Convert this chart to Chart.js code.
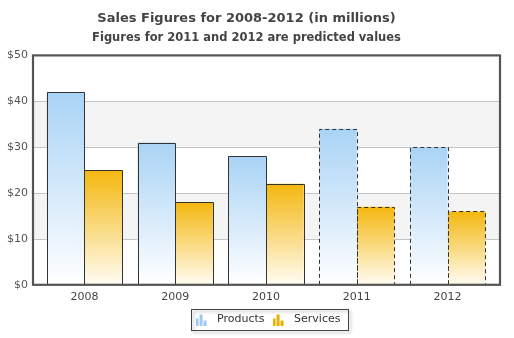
<!DOCTYPE html>
<html>
<head>
<meta charset="utf-8">
<script src="https://cdn.jsdelivr.net/npm/chart.js@4"></script>
<style>
  html, body { margin: 0; padding: 0; background: #fff; }
  #wrap { width: 514px; height: 338px; }
</style>
</head>
<body>
<div id="wrap"><canvas id="salesChart"></canvas></div>
<script>
// Sales data (millions of dollars)
const years = ['2008', '2009', '2010', '2011', '2012'];
const products = [42, 31, 28, 34, 30];
const services = [25, 18, 22, 17, 16];
const predicted = [false, false, false, true, true];
const yMax = 50;
const yStep = 10;

const FONT = "'DejaVu Sans', Verdana, sans-serif";
const FRAME_INSET = 6;   // frame sits a little outside the category range

// vertical gradient from the top of each bar down to the axis
function barGradient(top, bottom) {
    return function (context) {
        const chart = context.chart;
        if (!chart.chartArea || context.type !== 'data') return top;
        const y = chart.scales.y;
        const g = chart.ctx.createLinearGradient(0, y.getPixelForValue(context.raw), 0, y.getPixelForValue(0));
        g.addColorStop(0, top);
        g.addColorStop(1, bottom);
        return g;
    };
}

// little bar-chart icon used in the legend
function legendIcon(color) {
    const c = document.createElement('canvas');
    c.width = 12;
    c.height = 12;
    const g = c.getContext('2d');
    g.fillStyle = color;
    g.fillRect(0, 5, 3, 7);
    g.fillRect(4, 1, 3, 11);
    g.fillRect(8, 7, 3, 5);
    return c;
}

function frameRect(chart) {
    const a = chart.chartArea;
    return { left: a.left - FRAME_INSET, right: a.right + FRAME_INSET + 1, top: a.top, bottom: a.bottom };
}

// alternating bands and grid lines behind the bars
const bandsPlugin = {
    id: 'bands',
    beforeDatasetsDraw(chart) {
        const { ctx, scales: { y } } = chart;
        const f = frameRect(chart);
        ctx.save();
        ctx.fillStyle = '#f4f4f4';
        for (let v = 10; v < yMax; v += 2 * yStep) {
            const t = y.getPixelForValue(v + yStep);
            const b = y.getPixelForValue(v);
            ctx.fillRect(f.left, t, f.right - f.left, b - t);
        }
        ctx.strokeStyle = '#c4c4c4';
        ctx.lineWidth = 1;
        for (let v = yStep; v < yMax; v += yStep) {
            const py = Math.round(y.getPixelForValue(v)) + 0.5;
            ctx.beginPath();
            ctx.moveTo(f.left, py);
            ctx.lineTo(f.right, py);
            ctx.stroke();
        }
        ctx.restore();
    }
};

// bar outlines, dashed for the predicted years
const outlinePlugin = {
    id: 'barOutline',
    afterDatasetsDraw(chart) {
        const ctx = chart.ctx;
        chart.data.datasets.forEach((ds, i) => {
            chart.getDatasetMeta(i).data.forEach((bar, j) => {
                const p = bar.getProps(['x', 'y', 'base', 'width'], true);
                const l = Math.round(p.x - p.width / 2) + 0.5;
                const r = Math.round(p.x + p.width / 2) + 0.5;
                const t = Math.round(p.y) + 0.5;
                ctx.save();
                ctx.strokeStyle = '#333';
                ctx.lineWidth = 1;
                ctx.setLineDash(predicted[j] ? [4, 3] : []);
                ctx.beginPath();
                ctx.moveTo(l, p.base);
                ctx.lineTo(l, t);
                ctx.lineTo(r, t);
                ctx.lineTo(r, p.base);
                ctx.stroke();
                ctx.restore();
            });
        });
    }
};

// frame round the plot area and a box round the legend
const framePlugin = {
    id: 'frame',
    afterDraw(chart) {
        const ctx = chart.ctx;
        const f = frameRect(chart);
        ctx.save();
        ctx.strokeStyle = '#555';
        ctx.lineWidth = 2.2;
        ctx.strokeRect(f.left, f.top, f.right - f.left, f.bottom - f.top);

        const boxes = chart.legend.legendHitBoxes;
        if (boxes && boxes.length) {
            const x0 = Math.min(...boxes.map(b => b.left)) - 1;
            const x1 = Math.max(...boxes.map(b => b.left + b.width)) + 7;
            const y0 = Math.min(...boxes.map(b => b.top)) - 5;
            const y1 = Math.max(...boxes.map(b => b.top + b.height)) + 5;
            ctx.shadowColor = 'rgba(0,0,0,0.3)';
            ctx.shadowOffsetX = 2;
            ctx.shadowOffsetY = 2;
            ctx.shadowBlur = 3;
            ctx.lineWidth = 1;
            ctx.strokeStyle = '#444';
            ctx.strokeRect(Math.round(x0) + 0.5, Math.round(y0) + 0.5, Math.round(x1 - x0), Math.round(y1 - y0));
        }
        ctx.restore();
    }
};

new Chart(document.getElementById('salesChart'), {
    type: 'bar',
    data: {
        labels: years,
        datasets: [{
            label: 'Products',
            data: products,
            backgroundColor: barGradient('#a9d3f5', '#ffffff'),
            borderWidth: 0
        }, {
            label: 'Services',
            data: services,
            backgroundColor: barGradient('#f4b70e', '#fffcf3'),
            borderWidth: 0
        }]
    },
    options: {
        responsive: true,
        maintainAspectRatio: false,
        animation: false,
        datasets: {
            bar: { barPercentage: 1, categoryPercentage: 0.83 }
        },
        layout: { padding: { left: 0, right: 21, top: 7, bottom: 3 } },
        plugins: {
            title: {
                display: true,
                text: 'Sales Figures for 2008-2012 (in millions)',
                color: '#444',
                font: { family: FONT, size: 13, weight: 'bold' },
                padding: { top: 4, bottom: 5 }
            },
            subtitle: {
                display: true,
                text: 'Figures for 2011 and 2012 are predicted values',
                color: '#444',
                font: { family: FONT, size: 11.5, weight: 'bold' },
                padding: { bottom: 10 }
            },
            legend: {
                position: 'bottom',
                fullSize: false,
                labels: {
                    usePointStyle: true,
                    pointStyleWidth: 20,
                    generateLabels(chart) {
                        return chart.data.datasets.map((ds, i) => ({
                            text: ds.label,
                            pointStyle: legendIcon(i === 0 ? '#9ec9ec' : '#e9b000'),
                            fontColor: '#333',
                            datasetIndex: i,
                            lineWidth: 0
                        }));
                    },
                    font: { family: FONT, size: 11 },
                    padding: 4
                }
            },
            tooltip: { enabled: false }
        },
        scales: {
            x: {
                grid: { display: false, drawTicks: false },
                border: { display: false },
                ticks: { color: '#444', font: { family: FONT, size: 11 }, padding: 6 }
            },
            y: {
                min: 0,
                max: yMax,
                afterFit(scale) { scale.width = 39; },
                ticks: {
                    stepSize: yStep,
                    color: '#555',
                    font: { family: FONT, size: 11 },
                    padding: 11,
                    callback: v => '$' + v
                },
                grid: { display: false, drawTicks: false },
                border: { display: false }
            }
        }
    },
    plugins: [bandsPlugin, outlinePlugin, framePlugin]
});
</script>
</body>
</html>
